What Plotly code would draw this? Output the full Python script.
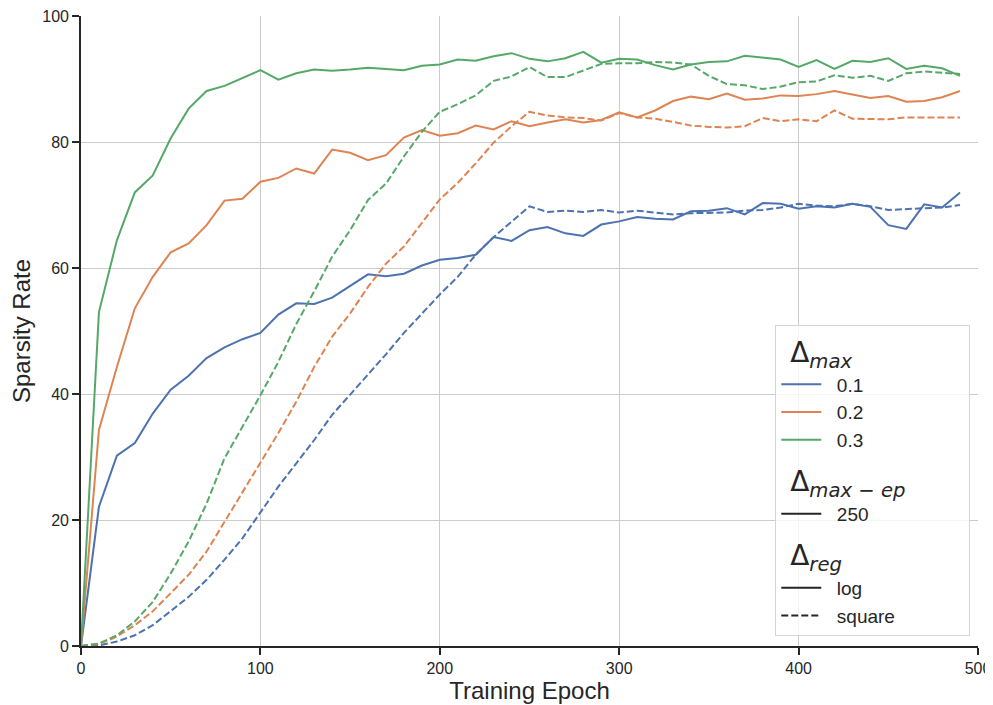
import plotly.graph_objects as go

epochs = list(range(0, 500, 10))

blue_log = [0, 22.1, 30.2, 32.2, 36.9, 40.7, 42.9, 45.7, 47.4, 48.7, 49.7,
            52.6, 54.4, 54.3, 55.3, 57.1, 59.0, 58.7, 59.1, 60.4, 61.3,
            61.6, 62.1, 64.9, 64.3, 66.0, 66.5, 65.5, 65.1, 66.9, 67.4,
            68.1, 67.8, 67.7, 69.0, 69.1, 69.5, 68.5, 70.3, 70.2, 69.4,
            69.8, 69.6, 70.2, 69.7, 66.8, 66.2, 70.1, 69.6, 72.0]
blue_sq = [0, 0.1, 0.7, 1.7, 3.3, 5.5, 7.8, 10.5, 13.7, 17.1, 21.1,
           25.3, 29.0, 32.7, 36.7, 39.9, 43.2, 46.3, 49.7, 52.7, 55.8,
           58.6, 62.1, 64.9, 67.4, 69.8, 68.9, 69.1, 68.9, 69.2, 68.8,
           69.1, 68.8, 68.5, 68.7, 68.7, 68.8, 69.1, 69.2, 69.6, 70.2,
           69.9, 69.8, 70.2, 69.8, 69.2, 69.4, 69.5, 69.6, 70.0]
orange_log = [0, 34.3, 44.3, 53.6, 58.6, 62.5, 63.9, 66.8, 70.7, 71.0, 73.7,
              74.3, 75.8, 75.0, 78.8, 78.3, 77.1, 77.9, 80.7, 81.9, 81.0,
              81.4, 82.6, 82.0, 83.3, 82.5, 83.1, 83.6, 83.1, 83.5, 84.7,
              83.9, 85.0, 86.5, 87.2, 86.8, 87.7, 86.7, 86.9, 87.4, 87.3,
              87.6, 88.1, 87.6, 87.0, 87.3, 86.4, 86.5, 87.1, 88.1]
orange_sq = [0, 0.3, 1.5, 3.3, 5.5, 8.4, 11.3, 15.0, 19.7, 24.2, 29.0,
             33.8, 38.8, 44.3, 49.1, 52.8, 57.0, 60.7, 63.4, 67.1, 70.9,
             73.5, 76.6, 79.9, 82.5, 84.8, 84.2, 83.9, 83.8, 83.4, 84.6,
             83.9, 83.7, 83.2, 82.6, 82.4, 82.3, 82.5, 83.8, 83.3, 83.6,
             83.3, 85.0, 83.7, 83.6, 83.6, 83.9, 83.9, 83.9, 83.9]
green_log = [0, 53.0, 64.4, 72.0, 74.7, 80.6, 85.3, 88.1, 88.9, 90.2, 91.4,
             89.9, 90.9, 91.5, 91.3, 91.5, 91.8, 91.6, 91.4, 92.1, 92.3,
             93.1, 92.9, 93.6, 94.1, 93.2, 92.8, 93.3, 94.3, 92.6, 93.2,
             93.1, 92.2, 91.5, 92.3, 92.7, 92.8, 93.7, 93.4, 93.1, 91.9,
             93.0, 91.6, 92.9, 92.7, 93.3, 91.6, 92.1, 91.7, 90.5]
green_sq = [0, 0.4, 1.7, 3.9, 7.0, 11.5, 16.6, 22.6, 29.8, 34.8, 39.8,
            45.1, 51.1, 56.3, 61.8, 66.0, 70.8, 73.4, 77.7, 81.6, 84.8,
            86.0, 87.4, 89.7, 90.4, 91.9, 90.3, 90.3, 91.3, 92.4, 92.5,
            92.5, 92.7, 92.6, 92.3, 90.5, 89.2, 89.0, 88.4, 88.8, 89.5,
            89.6, 90.6, 90.2, 90.5, 89.7, 90.9, 91.2, 91.0, 90.8]

max_labels = ["0.1", "0.2", "0.3"]
colors = ["#4C72B0", "#DD8452", "#55A868"]
log_series = [blue_log, orange_log, green_log]
sq_series = [blue_sq, orange_sq, green_sq]
ep_labels = ["250"]
reg_labels = ["log", "square"]

FONT = "Liberation Sans, Arial, sans-serif"
TXT = "#262626"
DASH = "7px,3px"
LW = 2
PAD = "&nbsp;&nbsp;"

fig = go.Figure()

for lab, col, ys in zip(max_labels, colors, log_series):
    fig.add_trace(go.Scatter(
        x=epochs, y=ys, mode="lines", name=PAD + lab,
        line=dict(color=col, width=LW),
        legendgroup="max",
        legendgrouptitle=dict(text="&nbsp;Δ<sub><i>max</i></sub>"),
    ))
for lab, col, ys in zip(max_labels, colors, sq_series):
    fig.add_trace(go.Scatter(
        x=epochs, y=ys, mode="lines", name=lab,
        line=dict(color=col, width=LW, dash=DASH),
        legendgroup="max", showlegend=False,
    ))

fig.add_trace(go.Scatter(
    x=[None], y=[None], mode="lines", name=PAD + ep_labels[0],
    line=dict(color=TXT, width=LW),
    legendgroup="maxep",
    legendgrouptitle=dict(text="&nbsp;Δ<sub><i>max − ep</i></sub>&nbsp;&nbsp;&nbsp;&nbsp;&nbsp;&nbsp;"),
))
fig.add_trace(go.Scatter(
    x=[None], y=[None], mode="lines", name=PAD + reg_labels[0],
    line=dict(color=TXT, width=LW),
    legendgroup="reg",
    legendgrouptitle=dict(text="&nbsp;Δ<sub><i>reg</i></sub>"),
))
fig.add_trace(go.Scatter(
    x=[None], y=[None], mode="lines", name=PAD + reg_labels[1],
    line=dict(color=TXT, width=LW, dash=DASH),
    legendgroup="reg",
))

axis_common = dict(
    showgrid=True, gridcolor="#cccccc", gridwidth=1,
    zeroline=False, automargin=False,
    showline=True, linecolor=TXT, linewidth=1.7,
    ticks="outside", ticklen=7, tickwidth=1.5, tickcolor=TXT,
    tickfont=dict(family=FONT, size=16, color=TXT),
    ticklabeloverflow="allow",
)

fig.update_xaxes(
    range=[0, 500], tickvals=[0, 100, 200, 300, 400, 500],
    title=dict(text="Training Epoch", font=dict(family=FONT, size=24, color=TXT), standoff=5),
    **axis_common,
)
fig.update_yaxes(
    range=[0, 100], tickvals=[0, 20, 40, 60, 80, 100],
    title=dict(text="Sparsity Rate", font=dict(family=FONT, size=24, color=TXT), standoff=14),
    **axis_common,
)

fig.update_layout(
    width=985, height=697,
    margin=dict(l=73, r=15, t=8, b=59),
    paper_bgcolor="white", plot_bgcolor="white",
    font=dict(family=FONT, color=TXT),
    legend=dict(
        x=0.774, y=0.5095, xanchor="left", yanchor="top",
        bgcolor="rgba(255,255,255,0.8)",
        bordercolor="#d5d5d5", borderwidth=1,
        font=dict(family=FONT, size=19, color=TXT),
        grouptitlefont=dict(family="DejaVu Sans, " + FONT, size=28, color=TXT),
        traceorder="grouped",
        tracegroupgap=7,
        itemwidth=40,
    ),
)

fig.write_html("out.html")
